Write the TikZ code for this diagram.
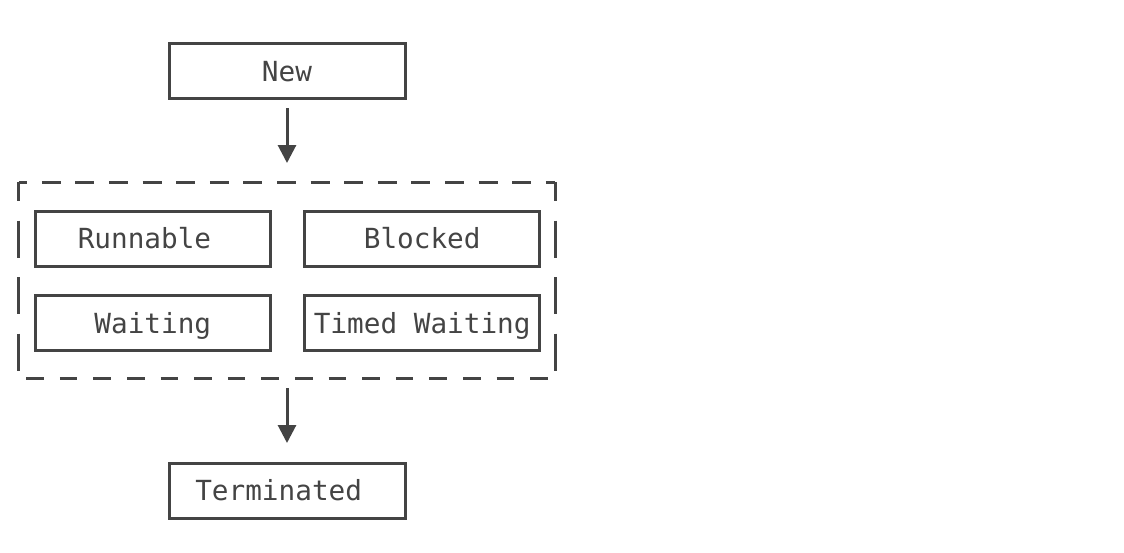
\documentclass[tikz,border=0pt]{standalone}
\usepackage{fontspec}
\setmonofont{DejaVu Sans Mono}
\usetikzlibrary{arrows.meta}
\definecolor{ink}{HTML}{444444}
\begin{document}
\begin{tikzpicture}[x=1pt, y=-1pt, >={Triangle[length=18pt,width=18pt]},
 state/.style={draw=ink, line width=3pt, rectangle, minimum width=236pt, minimum height=55pt,
   inner sep=0pt, outer sep=0pt, text=ink, text height=20pt, text depth=0pt,
   font=\ttfamily\fontsize{27.7}{33}\selectfont},
 hdash/.style={draw=ink, line width=3pt, dash pattern=on 19pt off 14.6pt, dash phase=10.5pt},
 vdash/.style={draw=ink, line width=3pt, dash pattern=on 37pt off 19.5pt, dash phase=18pt},
 bdash/.style={draw=ink, line width=3pt, dash pattern=on 17.5pt off 16.1pt, dash phase=26.1pt},
 flow/.style={->, draw=ink, fill=ink, line width=3pt}]
 \useasboundingbox (0,0) rectangle (1124,552);

 \node[state] (new) at (287,71){New};
 % the four states while the thread is alive
 \node[minimum width=536.5pt, minimum height=196pt, inner sep=0pt, outer sep=0pt] (alive) at (287,280){};
 \node[state, minimum width=235pt] (runnable) at (152.8,238.8){Runnable\phantom{x}};
 \node[state, minimum width=235pt] (blocked) at (422.2,238.8){Blocked};
 \node[state, minimum width=235pt] (waiting) at (152.8,323){Waiting};
 \node[state, minimum width=235pt] (timed) at (422.2,323){Timed Waiting};
 \node[state] (term) at (287,490.5){Terminated\phantom{x}};

 \draw[hdash](alive.north west)--(alive.north east);
 \draw[vdash](alive.north west)--(alive.south west);
 \draw[vdash](alive.north east)--(alive.south east);
 \draw[bdash](alive.south west)--(alive.south east);

 \draw[flow, shorten <=9.5pt, shorten >=19pt](new.south)--(alive.north);
 \draw[flow, shorten <=10pt, shorten >=20pt](alive.south)--(term.north);

\end{tikzpicture}
\end{document}
